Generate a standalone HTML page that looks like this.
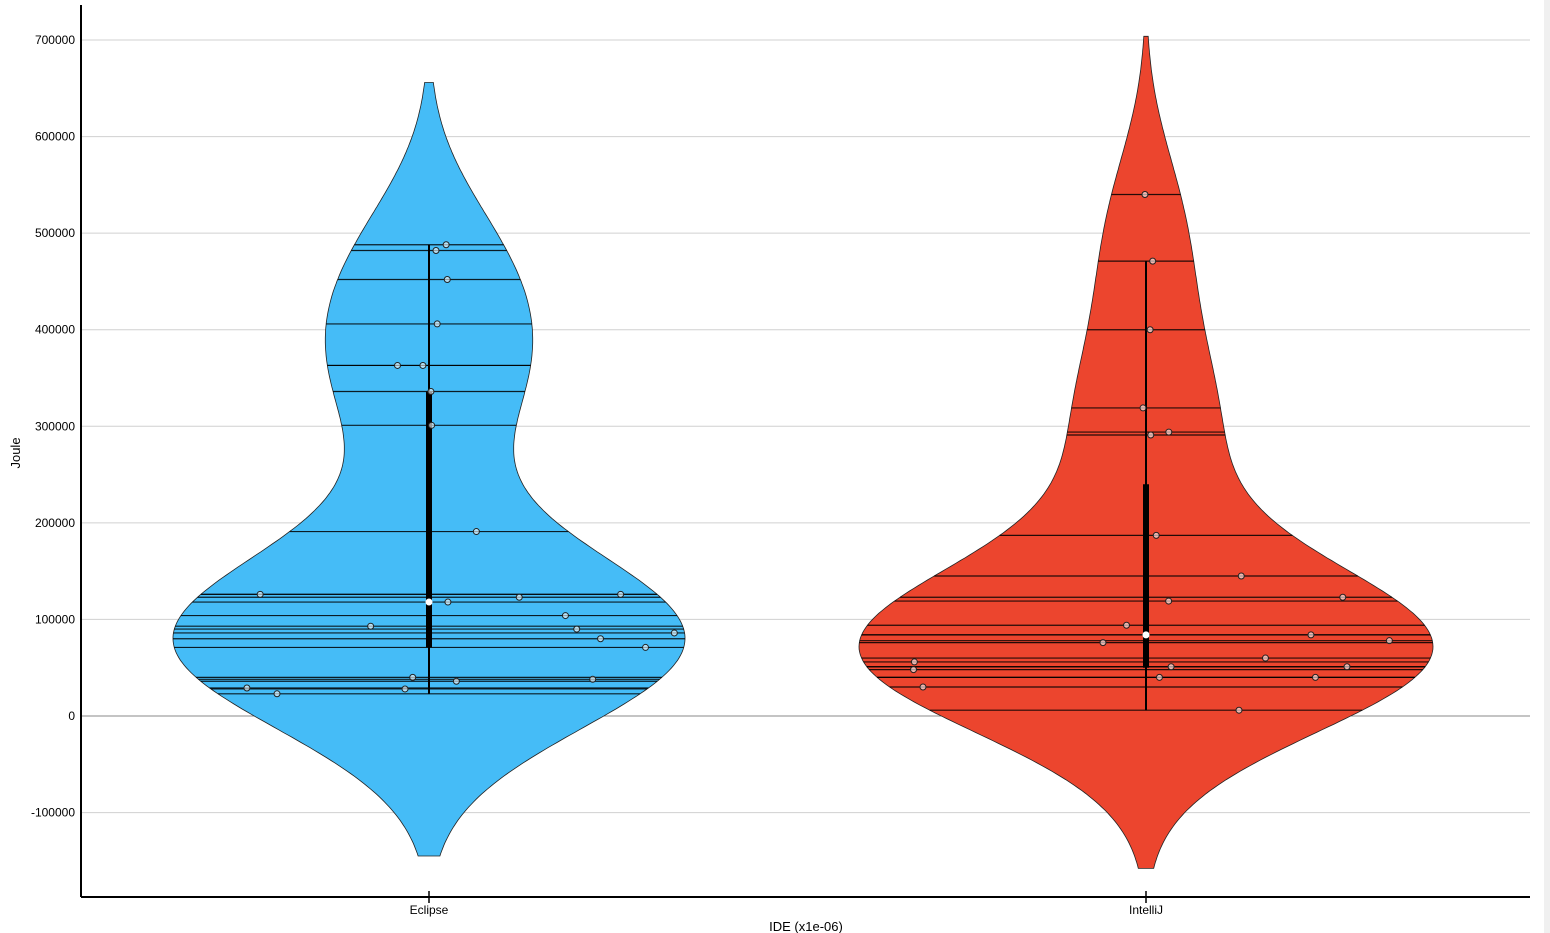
<!DOCTYPE html>
<html><head><meta charset="utf-8"><style>
body{margin:0;background:#fff;width:1550px;height:933px;overflow:hidden}
svg{display:block;font-family:"Liberation Sans",sans-serif}
</style></head><body>
<svg id="chart" width="1550" height="933">
<rect x="1544" y="0" width="6" height="933" fill="#f0f0f0"/>
<g id="grid"></g><g id="violins"></g><g id="axes"></g>
</svg>
<script>
const categories = ["Eclipse", "IntelliJ"];
const eclipseValues = [488000,482000,452000,406000,363000,363000,336000,301000,191000,126000,126000,123000,118000,104000,93000,90000,86000,80000,71000,40000,38000,36000,29000,28000,23000];
const intellijValues = [540000,471000,400000,319000,294000,291000,187000,145000,123000,119000,94000,84000,84000,78000,76000,60000,56000,51000,51000,48000,40000,40000,30000,6000];
const eclipseStats = [23000,71000,118000,336000,488000];
const intellijStats = [6000,50000,84000,240000,471000];
const bandwidths = [80000, 78000];
const cutFactor = 2.1;
const yTicks = [-100000,0,100000,200000,300000,400000,500000,600000,700000];
const eclipseJitter = [0.23,0.09,0.2,0.08,-0.31,-0.06,0.02,0.03,0.34,-0.74,0.84,0.39,0.08,0.55,-0.23,0.58,0.96,0.67,0.85,-0.07,0.71,0.12,-0.83,-0.11,-0.72];
const intellijJitter = [-0.03,0.14,0.07,-0.04,0.29,0.06,0.07,0.45,0.8,0.09,-0.07,0.0,0.58,0.85,-0.15,0.42,-0.82,0.09,0.72,-0.84,0.05,0.63,-0.87,0.43];

const NS="http://www.w3.org/2000/svg";
const X0=81,X1=1530,YB=897;
const y=v=>716-v*(676/700000);
const xCat=i=>[429,1146][i];
const maxHalf=[256,287];
const colors=["#45bcf7","#ec452e"];
function mk(tag,attrs,parent){const e=document.createElementNS(NS,tag);for(const k in attrs)e.setAttribute(k,attrs[k]);parent.appendChild(e);return e;}
const grid=document.getElementById('grid'),vg=document.getElementById('violins'),ax=document.getElementById('axes');
yTicks.forEach(t=>{
  const l=mk('line',{x1:X0,x2:X1,y1:y(t),y2:y(t),stroke:t===0?'#888':'#d0d0d0','stroke-width':1},grid);
  
  
  const tx=mk('text',{x:75,y:y(t)+4,'text-anchor':'end','font-size':12,fill:'#000'},ax);
  tx.textContent=String(t);
  
  
});
const sets=[eclipseValues,intellijValues],stats=[eclipseStats,intellijStats],jit=[eclipseJitter,intellijJitter];
sets.forEach((vals,i)=>{
  const h=bandwidths[i];
  const kde=v=>vals.reduce((s,d)=>s+Math.exp(-0.5*((v-d)/h)**2),0);
  const lo=Math.min(...vals)-cutFactor*h,hi=Math.max(...vals)+cutFactor*h,N=300;
  const pts=[];let mx=0;
  for(let k=0;k<=N;k++){const v=lo+(hi-lo)*k/N;const d=kde(v);pts.push([v,d]);if(d>mx)mx=d;}
  const cx=xCat(i),W=v=>kde(v)/mx*maxHalf[i];
  let p='';pts.forEach(([v,d],k)=>{p+=(k?'L':'M')+(cx+d/mx*maxHalf[i]).toFixed(1)+','+y(v).toFixed(1);});
  for(let k=pts.length-1;k>=0;k--){const [v,d]=pts[k];p+='L'+(cx-d/mx*maxHalf[i]).toFixed(1)+','+y(v).toFixed(1);}
  p+='Z';
  const g=mk('g',{},vg);
  
  
  mk('path',{d:p,fill:colors[i],stroke:'#222','stroke-width':0.8},g);
  vals.forEach(v=>{const w=W(v);const l=mk('line',{x1:cx-w,x2:cx+w,y1:y(v),y2:y(v),stroke:'#000','stroke-opacity':0.85,'stroke-width':1.2},g);
    
    });
  const s=stats[i];
  mk('line',{x1:cx,x2:cx,y1:y(s[0]),y2:y(s[4]),stroke:'#000','stroke-width':2},g);
  mk('line',{x1:cx,x2:cx,y1:y(s[1]),y2:y(s[3]),stroke:'#000','stroke-width':6},g);
  vals.forEach((v,k)=>{const c=mk('circle',{cx:cx+jit[i][k]*W(v),cy:y(v),r:3,fill:'#fff','fill-opacity':0.6,stroke:'#222','stroke-width':1},g);
    
    });
  const m=mk('circle',{cx:cx,cy:y(s[2]),r:3.5,fill:'#fff'},g);
  
  
  mk('line',{x1:cx,x2:cx,y1:YB-6,y2:YB+6,stroke:'#000','stroke-width':1.5},ax);
  const t=mk('text',{x:cx,y:914,'text-anchor':'middle','font-size':12},ax);
  t.textContent=categories[i];
  
  
});
mk('line',{x1:X0,x2:X0,y1:5,y2:YB,stroke:'#000','stroke-width':2},ax);
mk('line',{x1:X0,x2:X1,y1:YB,y2:YB,stroke:'#000','stroke-width':2},ax);
const xt=mk('text',{x:806,y:931,'text-anchor':'middle','font-size':13},ax);xt.textContent='IDE (x1e-06)';


const yt=mk('text',{x:0,y:0,'text-anchor':'middle','font-size':13,transform:'translate(20,453) rotate(-90)'},ax);yt.textContent='Joule';


</script>
</body></html>
